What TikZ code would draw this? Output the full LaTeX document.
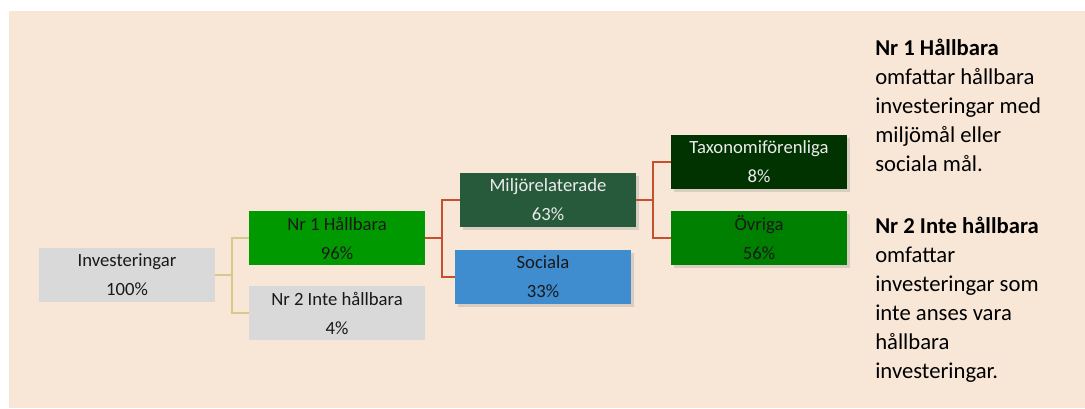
\documentclass[tikz,border=0pt]{standalone}
\usepackage{fontspec}
\setmainfont{Carlito}
\usetikzlibrary{positioning,shadows}
\definecolor{bgbeige}{HTML}{F8E7D7}
\definecolor{boxgray}{HTML}{D9D9D9}
\definecolor{hallgreen}{HTML}{009900}
\definecolor{miljgreen}{HTML}{265A3B}
\definecolor{socblue}{HTML}{3F8CCF}
\definecolor{taxgreen}{HTML}{003300}
\definecolor{ovrgreen}{HTML}{008000}
\definecolor{linetan}{HTML}{D7C98A}
\definecolor{linered}{HTML}{C4502F}
\tikzset{%
	box/.style     = {rectangle, minimum width=132pt, minimum height=40.5pt, inner sep=0pt, align=center, text=black!90, font=\fontsize{14}{21.75}\selectfont},
	shadowbox/.style = {box, drop shadow={opacity=0.25, shadow xshift=2pt, shadow yshift=-2pt}},
	tanline/.style = {linetan, line width=1.2pt},
	redline/.style = {linered, line width=1.5pt},
	note/.style    = {anchor=north west, inner sep=0pt, align=left, font=\fontsize{17}{21.75}\selectfont},
}
\begin{document}
\begin{tikzpicture}[x=0.75pt,y=-0.75pt]
	\useasboundingbox (0,0) rectangle (1085,408);
	\fill[bgbeige] (9,11) rectangle (1085,408);
	% first level
	\node[box, fill=boxgray] (inv) at (127,275) {Investeringar\\100\%};
	\node[box, fill=hallgreen] (nr1) at (337,238) {Nr 1 Hållbara\\96\%};
	\node[box, fill=boxgray] (nr2) at (337,313) {Nr 2 Inte hållbara\\4\%};
	% second level
	\node[shadowbox, fill=miljgreen, text=white!92!black] (milj) at (548,200) {Miljörelaterade\\63\%};
	\node[shadowbox, fill=socblue] (soc) at (543,277) {Sociala\\33\%};
	\node[shadowbox, fill=taxgreen, text=white!92!black] (tax) at (759,162) {Taxonomiförenliga\\8\%};
	\node[shadowbox, fill=ovrgreen] (ovr) at (759,238) {Övriga\\56\%};
	% connectors
	\draw[tanline] (inv.east) -- ++(17,0) |- (nr1.west);
	\draw[tanline] (inv.east) -- ++(17,0) |- (nr2.west);
	\draw[redline] (nr1.east) -- ++(17,0) |- (milj.west);
	\draw[redline] (nr1.east) -- ++(17,0) |- (soc.west);
	\draw[redline] (milj.east) -- ++(17,0) |- (tax.west);
	\draw[redline] (milj.east) -- ++(17,0) |- (ovr.west);
	% notes
	\node[note] (note1) at (875,39) {\textbf{Nr 1 Hållbara}\\omfattar hållbara\\investeringar med\\miljömål eller\\sociala mål.};
	\node[note] (note2) at (875,217) {\textbf{Nr 2 Inte hållbara}\\omfattar\\investeringar som\\inte anses vara\\hållbara\\investeringar.};
\end{tikzpicture}
\end{document}
